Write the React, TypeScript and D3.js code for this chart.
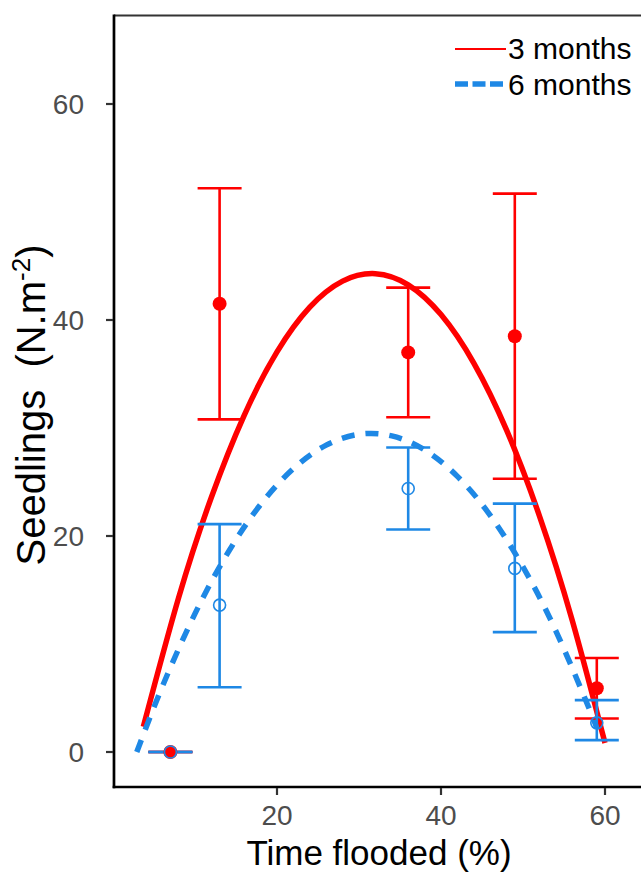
import React from "react"
import * as d3 from "d3"

// observed means and error bars (time flooded %, seedlings per m2)
const sites = [7, 13, 36, 49, 59]
const mean3 = [0, 41.5, 37.0, 38.5, 5.9]
const lower3 = [0, 30.8, 31.0, 25.3, 3.1]
const upper3 = [0, 52.2, 43.0, 51.7, 8.7]
const mean6 = [0, 13.6, 24.4, 17.0, 2.7]
const lower6 = [0, 6.0, 20.6, 11.1, 1.1]
const upper6 = [0, 21.1, 28.2, 23.0, 4.8]

// fitted quadratic curves
const fitX3 = [3.7, 8, 12, 16, 20, 24, 28, 32, 36, 40, 44, 48, 52, 56, 60]
const fitY3 = [2.34, 14.28, 23.59, 31.18, 37.05, 41.19, 43.6, 44.29, 43.26, 40.5, 36.01, 29.8, 21.87, 12.21, 0.83]
const fitX6 = [2.9, 6, 10, 14, 18, 22, 26, 30, 34, 38, 42, 46, 50, 54, 58, 59]
const fitY6 = [0, 6.03, 12.81, 18.44, 22.92, 26.24, 28.41, 29.42, 29.27, 27.97, 25.52, 21.91, 17.14, 11.22, 4.15, 2.2]

const xTicks = [20, 40, 60]
const yTicks = [0, 20, 40, 60]
const seriesNames = ["3 months", "6 months"]

const RED = "#FF0000"
const BLUE = "#1E88E5"
const FONT = "'Liberation Sans', Arial, Helvetica, sans-serif"

export default function App() {
  const W = 641
  const H = 872

  // Scales
  const x = d3.scaleLinear().domain([0, 60]).range([113, 605])
  const y = d3.scaleLinear().domain([0, 60]).range([752, 104])

  const left = x(0.12)
  const top = y(68.2)
  const bottom = y(-3.24)

  const line = d3
    .line<[number, number]>()
    .x(d => x(d[0]))
    .y(d => y(d[1]))
    .curve(d3.curveNatural)

  const red = line(fitX3.map((v, i) => [v, fitY3[i]])) || ""
  const blue = line(fitX6.map((v, i) => [v, fitY6[i]])) || ""

  const cap = 22

  const errorBars = (lo: number[], hi: number[], color: string) =>
    sites.map((s, i) => (
      <g key={i} stroke={color} strokeWidth={2.6} fill="none">
        <line x1={x(s)} x2={x(s)} y1={y(lo[i])} y2={y(hi[i])} />
        <line x1={x(s) - cap} x2={x(s) + cap} y1={y(lo[i])} y2={y(lo[i])} />
        <line x1={x(s) - cap} x2={x(s) + cap} y1={y(hi[i])} y2={y(hi[i])} />
      </g>
    ))

  return (
    <svg
      width={W}
      height={H}
      style={{ position: "absolute", left: 0, top: 0, background: "#fff" }}
      fontFamily={FONT}
    >
      <defs>
        <clipPath id="panel">
          <rect x={left} y={top} width={W - left} height={bottom - top} />
        </clipPath>
      </defs>

      <g clipPath="url(#panel)">
        <path d={red} fill="none" stroke={RED} strokeWidth={5.5} />
        <path d={blue} fill="none" stroke={BLUE} strokeWidth={5.5} strokeDasharray="13,11" />
        {errorBars(lower3, upper3, RED)}
        {errorBars(lower6, upper6, BLUE)}
        {sites.map((s, i) => (
          <circle key={"r" + i} cx={x(s)} cy={y(mean3[i])} r={7} fill={RED} />
        ))}
        {sites.map((s, i) => (
          <circle
            key={"b" + i}
            cx={x(s)}
            cy={y(mean6[i])}
            r={6}
            fill="none"
            stroke={BLUE}
            strokeWidth={1.6}
          />
        ))}
      </g>

      {/* panel lines */}
      <line x1={left} x2={W} y1={top} y2={top} stroke="#333" strokeWidth={2} />
      <line x1={left} x2={left} y1={top - 1} y2={bottom + 1.3} stroke="#000" strokeWidth={2.7} />
      <line x1={left - 1.3} x2={W} y1={bottom} y2={bottom} stroke="#000" strokeWidth={2.7} />

      {/* y axis */}
      {yTicks.map(t => (
        <g key={t}>
          <line x1={left - 8} x2={left - 1} y1={y(t)} y2={y(t)} stroke="#333" strokeWidth={2.2} />
          <text x={left - 30} y={y(t) + 10} textAnchor="end" fontSize={28} fill="#4D4D4D">
            {t}
          </text>
        </g>
      ))}

      {/* x axis */}
      {xTicks.map(t => (
        <g key={t}>
          <line x1={x(t)} x2={x(t)} y1={bottom + 1} y2={bottom + 8} stroke="#333" strokeWidth={2.2} />
          <text x={x(t)} y={825} textAnchor="middle" fontSize={28} fill="#4D4D4D">
            {t}
          </text>
        </g>
      ))}

      <text x={379} y={865} textAnchor="middle" fontSize={35} fill="#000">
        Time flooded (%)
      </text>

      <text
        transform={`translate(45,405) rotate(-90)`}
        textAnchor="middle"
        fontSize={40}
        fill="#000"
        style={{ whiteSpace: "pre" }}
      >
        {"Seedlings  (N.m"}
        <tspan dy={-15} fontSize={26}>-2</tspan>
        <tspan dy={15}>)</tspan>
      </text>

      {/* legend */}
      <line x1={455} x2={506} y1={49} y2={49} stroke={RED} strokeWidth={2.2} />
      <line x1={455} x2={503} y1={84} y2={84} stroke={BLUE} strokeWidth={5.5} strokeDasharray="13,4.5" />
      <text x={508} y={59} fontSize={30} fill="#000">{seriesNames[0]}</text>
      <text x={508} y={95} fontSize={30} fill="#000">{seriesNames[1]}</text>
    </svg>
  )
}
